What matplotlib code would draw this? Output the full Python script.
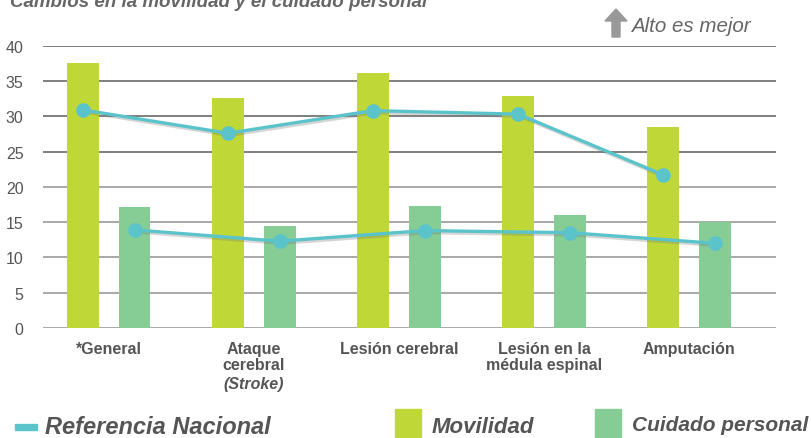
import numpy as np
import matplotlib.pyplot as plt
import matplotlib.patheffects as pe
from matplotlib.patches import Rectangle, FancyArrow

categories = ["*General", "Ataque\ncerebral", "Lesión cerebral",
              "Lesión en la\nmédula espinal", "Amputación"]
movilidad = [37.5, 32.6, 36.1, 32.9, 28.5]
cuidado = [17.1, 14.5, 17.3, 16.0, 15.0]
ref_movilidad = [30.9, 27.6, 30.8, 30.3, 21.7]
ref_cuidado = [13.9, 12.3, 13.8, 13.5, 12.0]
yticks = [0, 5, 10, 15, 20, 25, 30, 35, 40]

LIME = "#bfd737"
GREEN = "#86cc95"
TEAL = "#5bc4ca"
GRAY = "#555555"

plt.rcParams["font.family"] = ["Liberation Sans", "DejaVu Sans"]

fig = plt.figure(figsize=(8.11, 4.39), dpi=100)
ax = fig.add_axes([0.053, 0.2506, 0.904, 0.643])

x = np.arange(len(categories))
off = 0.178
w = 0.22

for y in yticks:
    ax.axhline(y, color="#6a6a6a" if y > 20 else "#9a9a9a", lw=1.2, zorder=0)

ax.bar(x - off, movilidad, width=w, color=LIME, zorder=2)
ax.bar(x + off, cuidado, width=w, color=GREEN, zorder=2)

shadow = [pe.SimpleLineShadow(offset=(1.2, -1.5), shadow_color="#777777",
                              alpha=0.3), pe.Normal()]
for xs, ys in [(x - off, ref_movilidad), (x + off, ref_cuidado)]:
    ax.plot(xs, ys, color=TEAL, lw=2.4, zorder=3, path_effects=shadow)
    ax.plot(xs, ys, ls="none", marker="o", ms=9.5, color=TEAL, mec=TEAL,
            zorder=4)

ax.set_xlim(-0.453, 4.60)
ax.set_ylim(0, 40)
ax.set_yticks(yticks)
ax.tick_params(axis="y", length=0, pad=14, labelsize=11.5, labelcolor=GRAY)
ax.set_xticks(x)
ax.set_xticklabels([])
ax.tick_params(axis="x", length=0)
for s in ax.spines.values():
    s.set_visible(False)

for i, lab in enumerate(categories):
    ax.text(i, -1.9, lab, ha="center", va="top", fontsize=11.5,
            fontweight="bold", color=GRAY, linespacing=1.05)
ax.text(1, -6.8, "(Stroke)", ha="center", va="top", fontsize=11.5,
        fontweight="bold", style="italic", color=GRAY)

# title (cut off at top edge in the reference)
fig.text(0.012, 1 - 7 / 439, "Cambios en la movilidad y el cuidado personal",
         ha="left", va="baseline", fontsize=13.5, fontweight="bold",
         style="italic", color="#666666")

# "Alto es mejor" note with arrow
fig.patches.append(FancyArrow(616 / 811, 1 - 38 / 439, 0, 28 / 439,
                              width=8 / 811, head_width=22 / 811,
                              head_length=12 / 439, length_includes_head=True,
                              color="#999999", transform=fig.transFigure))
fig.text(631 / 811, 1 - 27 / 439, "Alto es mejor", ha="left", va="center",
         fontsize=14.8, style="italic", color="#666666")

# legend
fig.patches.append(Rectangle((15 / 811, 1 - 431 / 439), 22 / 811, 6 / 439,
                             color=TEAL, transform=fig.transFigure))
fig.text(45 / 811, 1 - 428 / 439, "Referencia Nacional", ha="left",
         va="center", fontsize=17, fontweight="bold", style="italic",
         color=GRAY)
fig.patches.append(Rectangle((395 / 811, 0), 26 / 811, 29 / 439,
                             color=LIME, transform=fig.transFigure))
fig.text(432 / 811, 1 - 428 / 439, "Movilidad", ha="left", va="center",
         fontsize=16, fontweight="bold", style="italic", color=GRAY)
fig.patches.append(Rectangle((595 / 811, 0), 26 / 811, 29 / 439,
                             color=GREEN, transform=fig.transFigure))
fig.text(632 / 811, 1 - 426 / 439, "Cuidado personal", ha="left",
         va="center", fontsize=15, fontweight="bold", style="italic",
         color=GRAY)

fig.savefig("out.png", dpi=100)
